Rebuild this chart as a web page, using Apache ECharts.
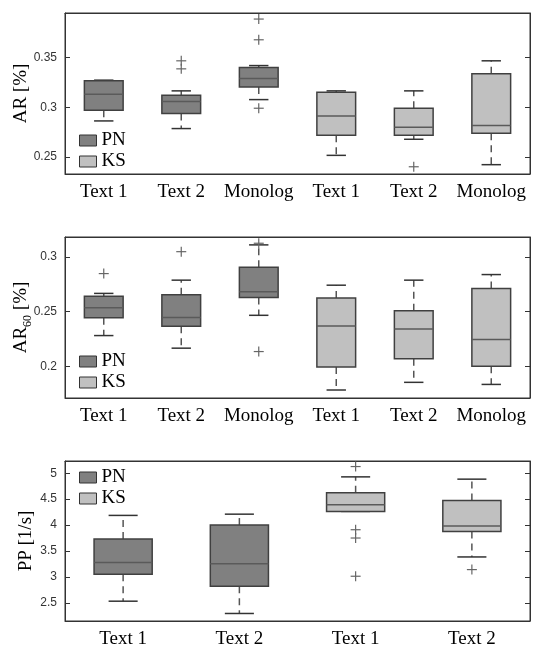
<!DOCTYPE html>
<html>
<head>
<meta charset="utf-8">
<script src="https://cdn.jsdelivr.net/npm/echarts@6/dist/echarts.min.js"></script>
<style>
  html, body { margin: 0; padding: 0; background: #fff; }
  #main { width: 535px; height: 645px; }
</style>
</head>
<body>
<div id="main"></div>
<script>
// 类别
var catsAR = ['Text 1', 'Text 2', 'Monolog', 'Text 1', 'Text 2', 'Monolog'];
var catsPP = ['Text 1', 'Text 2', 'Text 1', 'Text 2'];

// 箱线数据 [类别序号, min, Q1, median, Q3, max]
var arPN = [
    [0, 0.2862, 0.2970, 0.3131, 0.3266, 0.3273],
    [1, 0.2785, 0.2936, 0.3057, 0.3121, 0.3165],
    [2, 0.3077, 0.3205, 0.3290, 0.3400, 0.3420]
];
var arKS = [
    [3, 0.2515, 0.2717, 0.2912, 0.3152, 0.3165],
    [4, 0.2677, 0.2717, 0.2798, 0.2990, 0.3165],
    [5, 0.2421, 0.2737, 0.2815, 0.3337, 0.3468]
];
var arOut = [[1, 0.3468], [1, 0.3387], [2, 0.3889], [2, 0.3680], [2, 0.2990], [4, 0.2400]];

var ar60PN = [
    [0, 0.2282, 0.2445, 0.2536, 0.2642, 0.2667],
    [1, 0.2167, 0.2367, 0.2448, 0.2655, 0.2788],
    [2, 0.2467, 0.2630, 0.2682, 0.2906, 0.3110]
];
var ar60KS = [
    [3, 0.1785, 0.1994, 0.2370, 0.2624, 0.2742],
    [4, 0.1855, 0.2070, 0.2342, 0.2509, 0.2788],
    [5, 0.1836, 0.2003, 0.2245, 0.2712, 0.2839]
];
var ar60Out = [[0, 0.2848], [1, 0.3048], [2, 0.3125], [2, 0.2136]];

var ppPN = [
    [0, 2.532, 3.051, 3.276, 3.731, 4.186],
    [1, 2.295, 2.821, 3.256, 4.000, 4.210]
];
var ppKS = [
    [2, 4.263, 4.263, 4.391, 4.622, 4.929],
    [3, 3.385, 3.878, 3.980, 4.474, 4.885]
];
var ppOut = [[2, 5.128], [2, 3.910], [2, 3.750], [2, 3.013], [3, 3.141]];

// 刻度
var ticksAR = [0.25, 0.3, 0.35];
var ticksAR60 = [0.2, 0.25, 0.3];
var ticksPP = [2.5, 3, 3.5, 4, 4.5, 5];

var serif = '"Liberation Serif", "Times New Roman", serif';
var sans = '"Liberation Sans", Arial, sans-serif';

// 画箱子
function renderBox(params, api) {
    var x = api.value(0);
    var lo = api.coord([x, api.value(1)]);
    var q1 = api.coord([x, api.value(2)]);
    var md = api.coord([x, api.value(3)]);
    var q3 = api.coord([x, api.value(4)]);
    var hi = api.coord([x, api.value(5)]);
    var band = api.size([1, 0])[0];
    var bw = band * 0.5 / 2;
    var cw = band * 0.25 / 2;
    var cx = lo[0];
    var whisker = { stroke: '#555', lineWidth: 1.5, lineDash: [7, 5] };
    var cap = { stroke: '#333', lineWidth: 1.5 };
    return {
        type: 'group',
        children: [
            { type: 'line', shape: { x1: cx, y1: q3[1], x2: cx, y2: hi[1] }, style: whisker },
            { type: 'line', shape: { x1: cx, y1: q1[1], x2: cx, y2: lo[1] }, style: whisker },
            { type: 'line', shape: { x1: cx - cw, y1: hi[1], x2: cx + cw, y2: hi[1] }, style: cap },
            { type: 'line', shape: { x1: cx - cw, y1: lo[1], x2: cx + cw, y2: lo[1] }, style: cap },
            {
                type: 'rect',
                shape: { x: cx - bw, y: q3[1], width: bw * 2, height: q1[1] - q3[1] },
                style: { fill: api.visual('color'), stroke: '#404040', lineWidth: 1.5 }
            },
            { type: 'line', shape: { x1: cx - bw, y1: md[1], x2: cx + bw, y2: md[1] }, style: { stroke: '#5a5a5a', lineWidth: 1.5 } }
        ]
    };
}

// 画离群点 +
function renderPlus(params, api) {
    var p = api.coord([api.value(0), api.value(1)]);
    var s = 5;
    var st = { stroke: '#666', lineWidth: 1.2 };
    return {
        type: 'group',
        children: [
            { type: 'line', shape: { x1: p[0] - s, y1: p[1], x2: p[0] + s, y2: p[1] }, style: st },
            { type: 'line', shape: { x1: p[0], y1: p[1] - s, x2: p[0], y2: p[1] + s }, style: st }
        ]
    };
}

var grids = [
    { left: 65, right: 5, top: 13, height: 161 },
    { left: 65, right: 5, top: 237, height: 161 },
    { left: 65, right: 5, top: 461, height: 160 }
];
grids.forEach(function (g) {
    g.show = true; g.borderColor = '#333'; g.borderWidth = 1;
    g.containLabel = false; g.outerBoundsMode = 'none';
});

function xAxes(cats, gi) {
    var base = {
        type: 'category', data: cats, gridIndex: gi, boundaryGap: true,
        axisLine: { lineStyle: { color: '#333' } },
        axisTick: { inside: true, length: 5, interval: 0, alignWithLabel: true, lineStyle: { color: '#333' } },
        splitLine: { show: false }
    };
    return [
        Object.assign({}, base, { position: 'bottom', axisLabel: { interval: 0, fontFamily: serif, fontSize: 19, color: '#000', margin: 9 } }),
        Object.assign({}, base, { position: 'top', axisLabel: { show: false } })
    ];
}

function yAxes(min, max, ticks, name, gap, gi) {
    var base = {
        type: 'value', min: min, max: max, gridIndex: gi,
        axisLine: { show: true, lineStyle: { color: '#333' } },
        axisTick: { show: true, inside: true, length: 5, customValues: ticks, lineStyle: { color: '#333' } },
        splitLine: { show: false }
    };
    return [
        Object.assign({}, base, {
            position: 'left',
            name: name, nameLocation: 'middle', nameGap: gap, nameRotate: 90,
            nameMoveOverlap: false,
            nameTextStyle: {
                fontFamily: serif, fontSize: 19, color: '#000',
                rich: {
                    a: { fontFamily: serif, fontSize: 19, lineHeight: 19, color: '#000', verticalAlign: 'top' },
                    s: { fontFamily: serif, fontSize: 12, lineHeight: 12, color: '#000', verticalAlign: 'top', padding: [10, 0, 0, 0] }
                }
            },
            axisLabel: { customValues: ticks, fontFamily: sans, fontSize: 12, color: '#333', margin: 8 }
        }),
        Object.assign({}, base, { position: 'right', axisLabel: { show: false } })
    ];
}

function legendAt(top) {
    return {
        data: ['PN', 'KS'], orient: 'vertical', left: 79, top: top, padding: 0,
        itemWidth: 17, itemHeight: 11, itemGap: 2, icon: 'rect',
        itemStyle: { borderColor: '#333', borderWidth: 1 },
        textStyle: { fontFamily: serif, fontSize: 19, color: '#000', lineHeight: 19 },
        selectedMode: false
    };
}

function boxSeries(name, color, data, gi) {
    return {
        name: name, type: 'custom', renderItem: renderBox, data: data,
        xAxisIndex: gi * 2, yAxisIndex: gi * 2,
        itemStyle: { color: color },
        encode: { x: 0, y: [1, 2, 3, 4, 5] }
    };
}

function outSeries(data, gi) {
    return {
        name: 'out' + gi, type: 'custom', renderItem: renderPlus, data: data,
        xAxisIndex: gi * 2, yAxisIndex: gi * 2,
        encode: { x: 0, y: 1 }
    };
}

var myChart = echarts.init(document.getElementById('main'));

var option = {
    backgroundColor: '#fff',
    animation: false,
    grid: grids,
    legend: [legendAt(131), legendAt(352), legendAt(468)],
    xAxis: [].concat(xAxes(catsAR, 0), xAxes(catsAR, 1), xAxes(catsPP, 2)),
    yAxis: [].concat(
        yAxes(0.2327, 0.395, ticksAR, 'AR [%]', 34, 0),
        yAxes(0.1712, 0.3182, ticksAR60, '{a|AR}{s|60}{a| [%]}', 34, 1),
        yAxes(2.15, 5.235, ticksPP, 'PP [1/s]', 29, 2)
    ),
    series: [
        boxSeries('PN', '#808080', arPN, 0),
        boxSeries('KS', '#c0c0c0', arKS, 0),
        outSeries(arOut, 0),
        boxSeries('PN', '#808080', ar60PN, 1),
        boxSeries('KS', '#c0c0c0', ar60KS, 1),
        outSeries(ar60Out, 1),
        boxSeries('PN', '#808080', ppPN, 2),
        boxSeries('KS', '#c0c0c0', ppKS, 2),
        outSeries(ppOut, 2)
    ]
};

myChart.setOption(option);
</script>
</body>
</html>
